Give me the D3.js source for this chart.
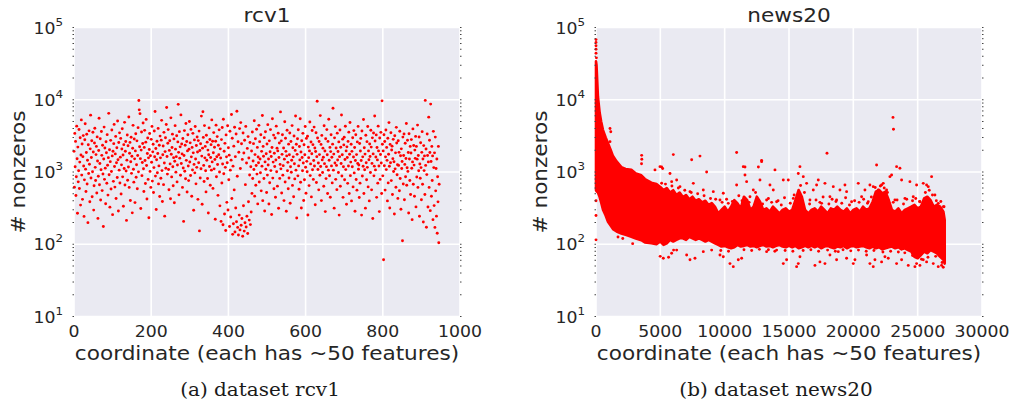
<!DOCTYPE html>
<html>
<head>
<meta charset="utf-8">
<script src="https://cdn.jsdelivr.net/npm/d3@7"></script>
<style>
  body { margin: 0; background: #fff; }
  svg text { font-family: "DejaVu Sans", sans-serif; fill: #262626; }
  svg text.caption { font-family: "DejaVu Serif", serif; fill: #1a1a1a; }
</style>
</head>
<body>
<script>
'use strict';

// rcv1: # nonzeros per coordinate (array index = coordinate)
const rcv1Nonzeros = [
  1930, 615, 3420, 1180, 2650, 472, 860, 4310, 1525, 268, 2210, 731, 1040, 3870, 590, 1370, 2980, 348, 1720, 5260,
  906, 2440, 418, 1630, 3190, 1210, 243, 779, 2790, 4650, 1095, 537, 1860, 3330, 682, 1455, 199, 2380, 952, 3710,
  1280, 388, 2090, 6120, 824, 1590, 2710, 455, 1010, 3550, 1890, 297, 645, 2520, 4030, 1160, 763, 1740, 2260, 512,
  3060, 1420, 228, 875, 1980, 5540, 665, 1310, 2880, 410, 1075, 3640, 1700, 553, 2340, 940, 176, 1510, 4180, 791,
  2150, 1130, 364, 2620, 1850, 698, 3290, 1240, 479, 1580, 6480, 915, 2030, 326, 1390, 2740, 581, 1015, 3820, 1670,
  257, 1940, 742, 2470, 4560, 1190, 618, 1780, 3110, 430, 1340, 2170, 838, 5080, 1480, 289, 2560, 1060, 3480, 705,
  1605, 2920, 496, 1255, 2080, 3960, 857, 1720, 335, 2390, 1120, 4870, 660, 1935, 2640, 1030, 214, 1460, 3250, 768,
  2310, 1170, 5780, 612, 1820, 2570, 403, 1385, 3020, 958, 1650, 272, 2130, 4420, 1090, 724, 2860, 1520, 377, 1960,
  3390, 845, 1260, 2700, 586, 1690, 4110, 1005, 9760, 7250, 2240, 6420, 1530, 312, 2010, 3580, 890, 1355, 2480, 4760,
  1110, 538, 2190, 3770, 1440, 694, 2590, 5350, 1230, 423, 1800, 2950, 790, 1570, 233, 2050, 3410, 1020, 1680, 612,
  2830, 1365, 4280, 748, 1900, 2420, 521, 1150, 3690, 1625, 6890, 877, 2110, 303, 1475, 2660, 978, 1805, 4010, 684,
  1215, 2350, 457, 3140, 1570, 820, 2760, 5190, 1045, 391, 1730, 2290, 668, 3540, 1330, 245, 1915, 2980, 1125, 4540,
  7820, 1640, 936, 2500, 3860, 1085, 567, 1990, 2710, 1295, 426, 5620, 1760, 855, 2180, 3340, 1180, 644, 1580, 2870,
  376, 1410, 4380, 2070, 996, 1630, 3180, 729, 1250, 2610, 8640, 1870, 483, 3620, 1555, 2230, 902, 6170, 1310, 2440,
  1780, 612, 2910, 1135, 207, 1695, 3740, 1025, 2350, 805, 4690, 1450, 2640, 528, 1960, 3270, 1210, 760, 2060, 5010,
  1375, 2530, 894, 3890, 1620, 462, 2190, 1065, 3430, 1840, 296, 1275, 2780, 973, 4270, 1515, 685, 2330, 1160, 3050,
  1890, 418, 2720, 1345, 3680, 153, 1980, 826, 2460, 1110, 5940, 1660, 358, 2140, 6830, 3010, 1235, 740, 4390, 1570,
  2260, 1040, 530, 3220, 1455, 2590, 812, 2010, 271, 1730, 4080, 1190, 2820, 655, 1590, 2390, 1060, 5260, 1380, 2660,
  593, 1845, 3510, 1105, 2200, 1490, 222, 2670, 4450, 861, 1625, 3090, 1270, 475, 2350, 1730, 3830, 1000, 340, 2090,
  1560, 207, 2810, 705, 4120, 1290, 186, 5370, 946, 1940, 262, 2490, 1160, 155, 3260, 1620, 380, 1345, 4360, 298,
  2170, 780, 1710, 176, 3660, 1060, 238, 1460, 6240, 429, 2930, 137, 1205, 192, 2280, 565, 4170, 148, 1630, 318,
  3350, 205, 6940, 872, 171, 2620, 134, 1880, 253, 3990, 158, 1120, 4830, 183, 2460, 227, 1495, 129, 3470, 341,
  1830, 152, 2750, 198, 668, 4280, 173, 1330, 244, 2120, 141, 3090, 387, 1560, 216, 910, 2560, 187, 1180, 279,
  1950, 506, 3580, 812, 1420, 2470, 1085, 5110, 463, 1740, 2880, 655, 1230, 3910, 936, 2190, 362, 1610, 1345, 4420,
  727, 2630, 1510, 975, 3270, 548, 1930, 1205, 6050, 401, 2260, 1655, 812, 2990, 288, 1380, 3610, 1090, 1785, 521,
  2440, 906, 4520, 1250, 1515, 360, 2700, 711, 1905, 3860, 1045, 1640, 258, 2180, 5470, 823, 1370, 3240, 586, 1815,
  1190, 2960, 447, 1465, 4310, 1010, 2140, 637, 1960, 3450, 315, 1590, 2520, 815, 1275, 6790, 1105, 2700, 512, 1755,
  3280, 905, 1225, 2150, 402, 1505, 4960, 728, 2930, 1930, 286, 1670, 3790, 1040, 1360, 585, 2430, 826, 1730, 3470,
  369, 1180, 2640, 994, 1455, 4390, 652, 2170, 1620, 455, 3150, 1300, 803, 1990, 5960, 1060, 2420, 231, 1755, 2880,
  884, 3840, 1215, 578, 2250, 1470, 5450, 720, 1890, 318, 2710, 1590, 1040, 3430, 1330, 403, 2380, 780, 1735, 4270,
  1165, 509, 2920, 1405, 1010, 3130, 254, 2210, 1580, 648, 1960, 4920, 892, 1295, 2600, 452, 1790, 3760, 1075, 2390,
  790, 1440, 4180, 1210, 2150, 352, 1920, 3490, 715, 1630, 9540, 2960, 1085, 1330, 566, 2640, 1740, 901, 6030, 1190,
  2410, 402, 3210, 1470, 985, 2140, 1600, 634, 4360, 1305, 1950, 283, 2890, 810, 1185, 3860, 1735, 505, 2650, 1060,
  5380, 1455, 889, 2190, 448, 1915, 3280, 1215, 1600, 706, 2430, 7620, 1060, 1770, 316, 2970, 1330, 4250, 791, 2150,
  1235, 570, 3450, 1465, 1920, 985, 2610, 253, 1630, 3810, 635, 2200, 1310, 6160, 880, 1730, 2850, 446, 1180, 2370,
  3020, 781, 1490, 4300, 1080, 1960, 357, 2230, 1590, 696, 2650, 1210, 3560, 505, 1760, 4850, 890, 1370, 2420, 398,
  1930, 1180, 2980, 622, 1610, 3740, 972, 2180, 286, 1440, 3270, 788, 1740, 561, 2610, 1310, 4280, 1090, 1250, 444,
  2480, 701, 1950, 2920, 1440, 253, 3690, 880, 1620, 1200, 5320, 505, 2170, 1075, 1770, 316, 3220, 1340, 782, 2630,
  1160, 4270, 622, 1960, 1480, 398, 2440, 1640, 985, 3790, 2210, 566, 1315, 2970, 227, 1780, 3460, 885, 1205, 5970,
  2690, 1070, 1610, 3260, 446, 2180, 1470, 701, 4310, 1960, 1210, 283, 2960, 790, 1750, 3540, 1330, 505, 9650, 2420,
  885, 1960, 61, 3270, 1220, 2640, 562, 1620, 3820, 1080, 2190, 1450, 398, 2930, 706, 1760, 4830, 1200, 318, 2410,
  1340, 3490, 760, 2020, 2280, 488, 1530, 2830, 1015, 1385, 262, 3180, 1105, 1840, 614, 4150, 2520, 915, 1260, 431,
  2710, 1235, 1870, 551, 3660, 812, 1680, 305, 2090, 1120, 1395, 112, 3040, 682, 1690, 3350, 412, 1275, 2500, 858,
  1540, 4690, 657, 1145, 2750, 1020, 1860, 271, 3380, 1510, 764, 2260, 489, 1830, 2810, 1125, 219, 1380, 3950, 676,
  2330, 1245, 462, 2010, 1545, 3110, 329, 2260, 853, 1505, 4460, 612, 1690, 1040, 3050, 244, 1290, 818, 2540, 1150,
  412, 1870, 3620, 678, 1510, 203, 2320, 1045, 1670, 488, 9800, 1235, 2080, 172, 920, 3360, 1690, 327, 1380, 5740,
  612, 2750, 1860, 292, 8700, 1395, 461, 2260, 763, 1670, 219, 3650, 1150, 343, 1840, 171, 3040, 548, 1120, 245,
  1510, 142, 858, 386, 2260, 105, 676
];

// news20: the dense cloud, read as a band (coordinate, upper and lower # nonzeros)
const news20BandX = [
  0, 40, 150, 285, 400, 544, 750, 933, 1150, 1321, 1600, 1969, 2300, 2746, 3100, 3523, 3800, 4300, 4700,
  5000, 5250, 5500, 5750, 6000, 6250, 6500, 6750, 7000, 7250, 7500, 7750, 8000, 8250, 8500, 8750, 9000, 9250,
  9500, 9750, 10000, 10250, 10500, 10750, 11000, 11250, 11500, 11750, 12000, 12250, 12500, 12750, 13000, 13250,
  13500, 13750, 14000, 14250, 14500, 14750, 15000, 15250, 15500, 15750, 16000, 16250, 16500, 16750, 17000, 17250,
  17500, 17750, 18000, 18250, 18500, 18750, 19000, 19250, 19500, 19750, 20000, 20250, 20500, 20750, 21000, 21250,
  21500, 21750, 22000, 22250, 22500, 22750, 23000, 23250, 23500, 23750, 24000, 24250, 24500, 24750, 25000, 25250,
  25500, 25750, 26000, 26250, 26500, 26750, 27000, 27100
];
const news20BandUpper = [
  34000, 30000, 11000, 6600, 5000, 3800, 3000, 2500, 2000, 1660, 1400, 1170, 1100, 1070, 950, 900, 800, 710, 680,
  620, 560, 600, 520, 560, 480, 520, 450, 480, 420, 455, 400, 420, 380, 400, 350, 370, 330,
  268, 298, 331, 283, 331, 409, 368, 314, 455, 409, 298, 331, 455, 388, 298, 314,
  283, 331, 298, 268, 298, 314, 283, 298, 409, 564, 455, 298, 268, 298, 314, 283,
  331, 298, 268, 314, 298, 331, 298, 283, 314, 268, 298, 314, 283, 331, 298, 314,
  388, 535, 564, 507, 535, 409, 298, 283, 314, 268, 298, 314, 331, 350, 314, 331,
  431, 455, 409, 331, 350, 331, 283, 217
];
const news20BandLower = [
  560, 540, 520, 450, 380, 300, 250, 205, 180, 162, 150, 141, 135, 127, 120, 114, 106, 103, 100,
  109, 98, 103, 115, 109, 115, 121, 121, 115, 127, 121, 115, 121, 115, 109, 115, 109, 103,
  98, 93, 95, 91, 88, 91, 98, 93, 95, 98, 93, 95, 91, 95, 98, 93,
  95, 91, 95, 98, 93, 91, 95, 91, 95, 88, 91, 95, 91, 95, 91, 95,
  88, 93, 95, 91, 88, 93, 91, 95, 88, 93, 95, 91, 93, 95, 91, 88,
  93, 88, 91, 85, 88, 91, 93, 88, 91, 85, 88, 83, 79, 67, 64, 71,
  79, 75, 83, 79, 75, 67, 61, 54
];

// news20: scattered points outside the dense band
const news20OutlierX = [
  0, 0, 0, 0, 0, 30, 0, 0, 0,
  1088, 1150, 1088, 3548, 3560, 3540, 4585, 5100, 5180, 6009, 5750, 7434, 8081, 8599, 10930, 11580, 12620, 12870, 13910, 17953, 23082, 23120,
  4973, 5880, 6268, 6527, 7563, 7304, 8340, 9117, 9894, 10930, 11448, 11578, 11707, 12225, 12743, 12873, 13520, 13779,
  14556, 14945, 15722, 15851, 16110, 16369, 16887, 17146, 17276, 17794, 18441, 18959, 19348, 19477, 20384, 20902,
  21290, 21549, 21808, 21938, 22197, 22326, 22585, 22844, 22974, 23362, 23621, 23751, 24398, 24916, 25434, 25693,
  25823, 26082, 26600, 26729,
  9635, 10282, 11966, 13260, 14038, 15333, 16628, 17535, 18182, 18700, 19866, 20643, 21160, 23233, 24010, 24657,
  25175, 26340, 27000,
  9800, 10150, 10600, 11100, 11350, 11900, 12400, 12950, 13400, 13650, 14150, 14400, 14650, 15100, 15400, 15900,
  16200, 16600, 17100, 17400, 17650, 18100, 18350, 18650, 19100, 19400, 19700, 20100, 20450, 20800, 21100, 21400,
  21700, 22100, 22400, 22650, 23100, 23400, 23900, 24150, 24600, 24850, 25150, 25600, 25900, 26150, 26450, 26800, 27050,
  5100, 5400, 5900, 6400, 6900, 7400, 7900, 8400, 8900, 9300,
  5232, 5880, 6268, 7045, 7304, 7693, 8340, 8988, 9635, 9894, 10412, 10671, 11060, 11319, 13260, 14038, 14556,
  14815, 15592, 15722, 15851, 17017, 17405, 17794, 18182, 18700, 18830, 19477, 19995, 20125, 21031, 21290, 21549,
  21679, 22197, 22456, 22715, 23362, 23751, 24269, 24787, 24916, 25175, 25434, 25693, 26211, 26600, 26859, 26988,
  9700, 10300, 11500, 12100, 12700, 13400, 13900, 14700, 15300, 16100, 16700, 17300, 18000, 18600, 19200, 19800,
  20400, 21000, 21600, 22300, 22900, 23500, 24000, 24600, 25300, 25800, 26400, 26900,
  1710, 2080, 2850, 4990, 5640, 6030
];
const news20OutlierY = [
  68000, 62000, 56000, 50000, 44000, 38000, 115, 250, 400,
  4000, 3600, 2630, 1700, 1500, 1300, 1070, 1170, 1120, 1740, 955, 1480, 1660, 1000, 1860, 1170, 1170, 1450, 1070, 1820, 5700, 3900,
  1186, 735, 774, 627, 697, 535, 564, 535, 507, 660, 1186, 908, 735, 564, 774, 1390, 660, 564,
  774, 774, 955, 1186, 862, 697, 564, 660, 774, 697, 627, 564, 660, 535, 697, 564,
  660, 627, 1250, 564, 660, 697, 564, 862, 908, 1186, 1125, 774, 735, 660, 697, 660,
  627, 862, 368, 268,
  409, 368, 455, 409, 388, 431, 409, 368, 455, 409, 388, 455, 388, 409, 431, 455,
  388, 480, 331,
  380, 420, 390, 470, 400, 380, 520, 360, 430, 380, 400, 350, 440, 370, 480, 650,
  520, 360, 410, 380, 450, 360, 420, 390, 370, 440, 350, 400, 380, 420, 370, 450,
  610, 640, 600, 520, 380, 410, 360, 420, 400, 430, 390, 520, 560, 480, 400, 390, 330,
  700, 680, 640, 600, 560, 520, 500, 470, 430, 420,
  64, 75, 83, 71, 61, 64, 79, 83, 71, 67, 54, 49, 61, 64, 79, 83, 54,
  61, 49, 54, 67, 51, 57, 54, 71, 61, 79, 64, 54, 61, 71, 54, 49,
  61, 57, 67, 64, 54, 61, 51, 49, 54, 51, 61, 57, 54, 49, 51, 48,
  82, 80, 84, 82, 85, 84, 80, 82, 80, 82, 84, 80, 83, 80, 84, 81,
  83, 80, 82, 78, 80, 78, 76, 70, 62, 66, 68, 56,
  126, 120, 102, 68, 66, 83
];

const xTicksRcv1 = [0, 200, 400, 600, 800, 1000];
const xTicksNews20 = [0, 5000, 10000, 15000, 20000, 25000, 30000];
const yTickExponents = [1, 2, 3, 4, 5];

let width = 1011;
let height = 402;
let svgContainer = "";

window.onload = function() {
  svgContainer = d3.select('body')
    .append('svg')
    .attr('width', width)
    .attr('height', height);

  let yScale = d3.scaleLog()
    .domain([10, 100000])
    .range([316.5, 27.5]);

  // left panel: rcv1
  let xLeft = d3.scaleLinear().domain([0, 1000]).range([74, 460]);
  let gLeft = makePanel(xLeft, yScale, xTicksRcv1, "rcv1", "(a) dataset rcv1", 18, 260);
  gLeft.append("g")
    .selectAll("circle")
    .data(rcv1Nonzeros)
    .enter()
    .append("circle")
      .attr("cx", (d, i) => xLeft(i))
      .attr("cy", (d) => yScale(d))
      .attr("r", 1.45)
      .attr("fill", "#ff0000");
  drawMinorTicks(gLeft, xLeft, yScale);

  // right panel: news20
  let xRight = d3.scaleLinear().domain([0, 30000]).range([596, 982]);
  let gRight = makePanel(xRight, yScale, xTicksNews20, "news20", "(b) dataset news20", 540, 776);

  let band = news20BandX.map((x, i) => ({x: x, hi: news20BandUpper[i], lo: news20BandLower[i]}));
  let area = d3.area()
    .x((d) => xRight(d.x))
    .y0((d) => yScale(d.lo))
    .y1((d) => yScale(d.hi));
  gRight.append("path")
    .datum(band)
    .attr("d", area)
    .attr("fill", "#ff0000")
    .attr("stroke", "#ff0000")
    .attr("stroke-width", 2.6)
    .attr("stroke-linejoin", "round");

  gRight.append("g")
    .selectAll("circle")
    .data(news20OutlierX)
    .enter()
    .append("circle")
      .attr("cx", (d) => xRight(d))
      .attr("cy", (d, i) => yScale(news20OutlierY[i]))
      .attr("r", 1.45)
      .attr("fill", "#ff0000");
  drawMinorTicks(gRight, xRight, yScale);
}

// text that is a bit wider than DejaVu, like the reference
function addText(g, x, y, str, size, anchor) {
  return g.append("text")
    .attr("transform", "translate(" + x + "," + y + ") scale(1.08,1)")
    .attr("text-anchor", anchor)
    .style("font-size", size + "px")
    .text(str);
}

function makePanel(xScale, yScale, xTicks, title, caption, yLabelX, captionX) {
  let g = svgContainer.append("g");
  let [x0, x1] = xScale.range();
  let [yb, yt] = yScale.range();
  let cx = (x0 + x1) / 2;

  // plot background
  g.append("rect")
    .attr("x", x0).attr("y", yt)
    .attr("width", x1 - x0).attr("height", yb - yt)
    .attr("fill", "#eaeaf2");

  // white grid lines
  g.append("g")
    .selectAll("line")
    .data(xTicks)
    .enter()
    .append("line")
      .attr("x1", (d) => xScale(d)).attr("x2", (d) => xScale(d))
      .attr("y1", yt).attr("y2", yb)
      .attr("stroke", "#fff").attr("stroke-width", 1.6);
  g.append("g")
    .selectAll("line")
    .data(yTickExponents)
    .enter()
    .append("line")
      .attr("x1", x0).attr("x2", x1)
      .attr("y1", (d) => yScale(Math.pow(10, d))).attr("y2", (d) => yScale(Math.pow(10, d)))
      .attr("stroke", "#fff").attr("stroke-width", 1.6);

  // x tick labels
  xTicks.forEach((t) => addText(g, xScale(t), 337, String(t), 16, "middle"));

  // y tick labels 10^k
  yTickExponents.forEach((k) => {
    let ty = yScale(Math.pow(10, k));
    let t = g.append("text")
      .attr("transform", "translate(" + (x0 - 11) + "," + (ty + 6) + ") scale(1.08,1)")
      .attr("text-anchor", "end")
      .style("font-size", "16px");
    t.append("tspan").text("10");
    t.append("tspan").attr("dy", -8).style("font-size", "11px").text(k);
  });

  // titles and labels
  addText(g, cx, 22, title, 20, "middle");
  addText(g, cx, 360, "coordinate (each has ~50 features)", 20, "middle");
  g.append("text")
    .attr("transform", "translate(" + (yLabelX + 7) + "," + ((yt + yb) / 2) + ") rotate(-90) scale(1.08,1)")
    .attr("text-anchor", "middle")
    .style("font-size", "20px")
    .text("# nonzeros");
  addText(g, captionX, 396, caption, 18.5, "middle").attr("class", "caption");

  return g;
}

// log minor ticks on both sides of the plot, drawn as small dark marks
function drawMinorTicks(g, xScale, yScale) {
  let [x0, x1] = xScale.range();
  let ticks = yScale.ticks();
  [[x0 - 1.5, x0], [x1, x1 + 1.5]].forEach((side) => {
    g.append("g")
      .selectAll("line")
      .data(ticks)
      .enter()
      .append("line")
        .attr("x1", side[0]).attr("x2", side[1])
        .attr("y1", (d) => yScale(d)).attr("y2", (d) => yScale(d))
        .attr("stroke", "#444").attr("stroke-width", 1);
  });
}
</script>
</body>
</html>
